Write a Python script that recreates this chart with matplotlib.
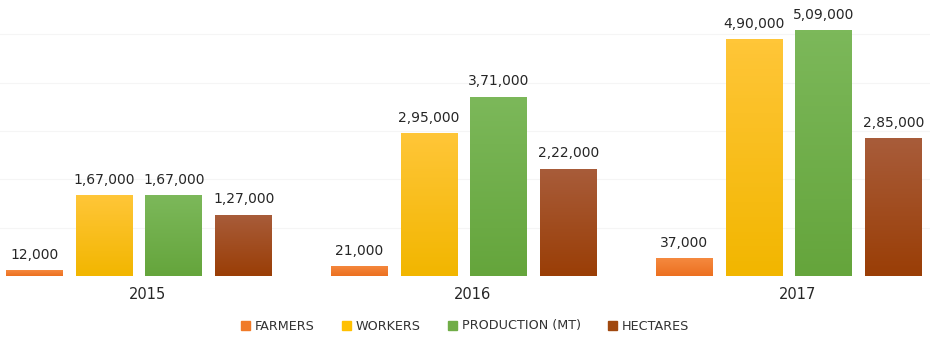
import matplotlib
matplotlib.use("Agg")
import matplotlib.pyplot as plt
import numpy as np
from matplotlib.colors import LinearSegmentedColormap

years = ["2015", "2016", "2017"]
series_names = ["FARMERS", "WORKERS", "PRODUCTION (MT)", "HECTARES"]
farmers = [12000, 21000, 37000]
workers = [167000, 295000, 490000]
production = [167000, 371000, 509000]
hectares = [127000, 222000, 285000]
series_values = [farmers, workers, production, hectares]

base_colors = ["#F07A28", "#FFC000", "#70AD47", "#A0480F"]
grad_top = ["#F5893F", "#FFC638", "#7CB85A", "#A85C3A"]
grad_bot = ["#EC7020", "#F2B600", "#65A53C", "#9A3E06"]


def indian_format(n):
    s = str(int(n))
    if len(s) <= 3:
        return s
    last3 = s[-3:]
    rest = s[:-3]
    parts = []
    while len(rest) > 2:
        parts.insert(0, rest[-2:])
        rest = rest[:-2]
    if rest:
        parts.insert(0, rest)
    return ",".join(parts) + "," + last3


plt.rcParams['font.family'] = ['DejaVu Sans']
fig = plt.figure(figsize=(9.3, 3.37), dpi=100)
ax = fig.add_axes([0, 61 / 337, 1, 276 / 337])

x = np.arange(len(years))
step = 0.215
width = 0.175
offsets = (np.arange(4) - 1.5) * step

for i, (name, vals) in enumerate(zip(series_names, series_values)):
    bars = ax.bar(x + offsets[i], vals, width, color=base_colors[i], label=name,
                  zorder=2, edgecolor="none")
    cmap = LinearSegmentedColormap.from_list("g%d" % i, [grad_bot[i], grad_top[i]])
    for b, v in zip(bars, vals):
        x0, w, h = b.get_x(), b.get_width(), b.get_height()
        grad = np.linspace(0, 1, 64).reshape(-1, 1)
        im = ax.imshow(grad, extent=[x0, x0 + w, 0, h], origin="lower", cmap=cmap,
                       aspect="auto", zorder=3)
        im.set_clip_path(b)
        ax.annotate(indian_format(v), (x0 + w / 2, h), xytext=(0, 6),
                    textcoords="offset points", ha="center", va="bottom",
                    fontsize=10, color="#262626", zorder=4)

ax.set_xlim(-0.4277, 2.434)
ax.set_ylim(0, 571000)
ax.set_yticks(np.arange(100000, 600000, 100000))
ax.yaxis.grid(True, color="#f5f5f5", linewidth=0.8, zorder=0)
ax.set_axisbelow(True)
ax.set_yticklabels([])
ax.tick_params(axis="y", length=0)
ax.set_xticks(x + 0.025)
ax.set_xticklabels(years, fontsize=10.5, color="#262626")
ax.tick_params(axis="x", length=0, pad=8)
for s in ["top", "right", "left", "bottom"]:
    ax.spines[s].set_visible(False)

handles = [plt.Rectangle((0, 0), 1, 1, color=c) for c in base_colors]
fig.legend(handles, series_names, loc="center", bbox_to_anchor=(0.5, 11 / 337),
           ncol=4, frameon=False, fontsize=9.2, handlelength=0.7, handleheight=0.7,
           handletextpad=0.4, columnspacing=2.1, labelcolor="#333333")

fig.savefig("out.png", dpi=100)
